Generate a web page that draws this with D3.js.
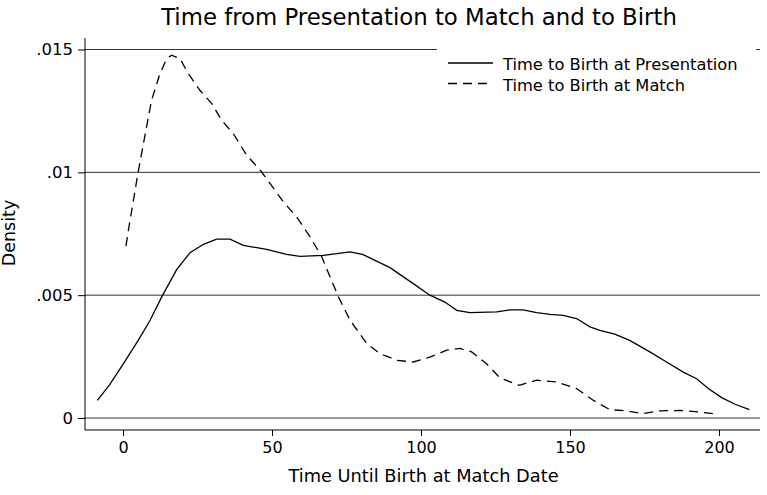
<!DOCTYPE html>
<html>
<head>
<meta charset="utf-8">
<script src="https://cdn.jsdelivr.net/npm/d3@7"></script>
<style>
  body { margin: 0; background: #fff; }
  svg { font-family: "DejaVu Sans", sans-serif; }
</style>
</head>
<body>
<svg id="chart" width="767" height="495"></svg>
<script>
// Kernel density, time to birth at presentation (solid)
const presDays = [-8.6, -4.4, 0.1, 5.1, 9.1, 13, 18, 22.5, 27, 31.4, 35.9, 40.4, 48.2, 54.9, 59.4,
  67.2, 76.2, 80.6, 89.6, 97.4, 103, 108, 112, 116.4, 125.4, 130, 134.3, 138.8, 143.3, 147.7,
  152.2, 156.7, 160, 165, 170, 176.8, 182.4, 188, 192.5, 196.4, 200.9, 205.4, 210.2];
const presDensity = [0.00072, 0.00137, 0.0022, 0.00316, 0.00398, 0.00493, 0.00604, 0.00673, 0.00707, 0.00728, 0.00728, 0.00703, 0.00686, 0.00666, 0.00658,
  0.00662, 0.00676, 0.00665, 0.00612, 0.00547, 0.005, 0.00472, 0.00438, 0.00429, 0.00432, 0.0044, 0.0044, 0.00429, 0.00422, 0.00418,
  0.00405, 0.00371, 0.00357, 0.00341, 0.00316, 0.00269, 0.00228, 0.00187, 0.0016, 0.0012, 0.00083, 0.00056, 0.00034];

// Kernel density, time to birth at match (dashed)
const matchDays = [1, 1.8, 5.1, 7.9, 9.6, 12.4, 14.7, 16.3, 19.1, 21.9, 25.8, 29.8, 33.1, 37, 41.5, 46.5,
  53.8, 58.3, 62.8, 66.7, 69.5, 72.3, 76.2, 81.8, 86.2, 91.8, 97.4, 103, 108.6, 113.1, 117, 122,
  126.5, 133, 138.8, 145.5, 152.2, 157.8, 163.4, 169, 174.6, 180.2, 186.9, 193.6, 199.8];
const matchDensity = [0.0070, 0.00764, 0.01002, 0.01185, 0.01294, 0.01402, 0.01463, 0.01477, 0.01463, 0.01402, 0.01334, 0.0128, 0.01212, 0.01158, 0.0107, 0.01002,
  0.0088, 0.00818, 0.00737, 0.00656, 0.00574, 0.00493, 0.00398, 0.00303, 0.00262, 0.00235, 0.00228, 0.00248, 0.00276, 0.00283, 0.00269, 0.00221,
  0.00163, 0.00133, 0.00154, 0.00147, 0.0012, 0.00072, 0.00034, 0.00029, 0.00018, 0.00029, 0.00031, 0.00024, 0.00015];

const xTicks = [0, 50, 100, 150, 200];
const yTicks = [0, 0.005, 0.01, 0.015];
const seriesNames = ["Time to Birth at Presentation", "Time to Birth at Match"];

const svg = d3.select("#chart");
const plotLeft = 85, plotRight = 760, plotTop = 38, plotBottom = 430;

const x = d3.scaleLinear().domain([0, 200]).range([123, 719]);
const y = d3.scaleLinear().domain([0, 0.015]).range([418, 49.5]);

// Title
svg.append("text")
  .attr("x", 419).attr("y", 25)
  .attr("text-anchor", "middle")
  .attr("font-size", "22.8px")
  .text("Time from Presentation to Match and to Birth");

// Horizontal grid lines
svg.append("g")
  .selectAll("line")
  .data(yTicks)
  .join("line")
  .attr("x1", plotLeft).attr("x2", plotRight)
  .attr("y1", d => y(d)).attr("y2", d => y(d))
  .attr("stroke", "#333")
  .attr("stroke-width", 1);

// Y axis
const yAxis = svg.append("g")
  .attr("transform", `translate(${plotLeft},0)`)
  .call(d3.axisLeft(y).tickValues(yTicks).tickSize(7).tickPadding(5)
    .tickFormat(d => d === 0 ? "0" : String(d).replace(/^0/, "")));
yAxis.select(".domain").remove();
yAxis.selectAll("text").attr("font-size", "16.5px").attr("fill", "#000")
  .attr("font-family", "DejaVu Sans, sans-serif");
yAxis.selectAll("line").attr("stroke", "#000");
svg.append("line")
  .attr("x1", plotLeft).attr("x2", plotLeft).attr("y1", plotTop).attr("y2", plotBottom)
  .attr("stroke", "#000");

// X axis
const xAxis = svg.append("g")
  .attr("transform", `translate(0,${plotBottom})`)
  .call(d3.axisBottom(x).tickValues(xTicks).tickSize(6).tickPadding(6));
xAxis.select(".domain").remove();
xAxis.selectAll("text").attr("font-size", "16px").attr("fill", "#000")
  .attr("font-family", "DejaVu Sans, sans-serif");
xAxis.selectAll("line").attr("stroke", "#000");
svg.append("line")
  .attr("x1", plotLeft).attr("x2", plotRight).attr("y1", plotBottom).attr("y2", plotBottom)
  .attr("stroke", "#000");

// Axis titles
svg.append("text")
  .attr("x", 423.5).attr("y", 482)
  .attr("text-anchor", "middle")
  .attr("font-size", "17.8px")
  .text("Time Until Birth at Match Date");
svg.append("text")
  .attr("transform", "translate(15,233) rotate(-90)")
  .attr("text-anchor", "middle")
  .attr("font-size", "17.5px")
  .text("Density");

// Density lines
const line = d3.line().curve(d3.curveLinear);
svg.append("path")
  .attr("d", line(presDays.map((d, i) => [x(d), y(presDensity[i])])))
  .attr("fill", "none").attr("stroke", "#000").attr("stroke-width", 1.3);
svg.append("path")
  .attr("d", line(matchDays.map((d, i) => [x(d), y(matchDensity[i])])))
  .attr("fill", "none").attr("stroke", "#000").attr("stroke-width", 1.3)
  .attr("stroke-dasharray", "9,6");

// Legend
const legend = svg.append("g");
legend.append("rect")
  .attr("x", 437).attr("y", 42).attr("width", 319).attr("height", 56)
  .attr("fill", "#fff");
seriesNames.forEach((name, i) => {
  const ly = 63 + i * 20.5;
  legend.append("line")
    .attr("x1", 448).attr("x2", 493).attr("y1", ly).attr("y2", ly)
    .attr("stroke", "#000").attr("stroke-width", 1.3)
    .attr("stroke-dasharray", i === 1 ? "9,6" : null);
  legend.append("text")
    .attr("x", 503).attr("y", ly + 7)
    .attr("font-size", "16.3px")
    .text(name);
});
</script>
</body>
</html>
